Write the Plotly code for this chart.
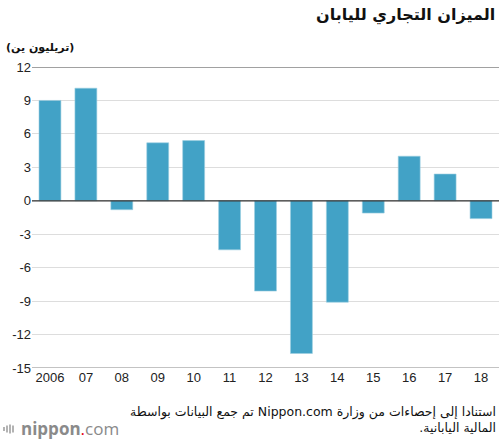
import plotly.graph_objects as go

# Japan trade balance, trillion yen
years = ["2006", "07", "08", "09", "10", "11", "12", "13", "14", "15", "16", "17", "18"]
balance = [9.0, 10.1, -0.8, 5.2, 5.4, -4.4, -8.1, -13.7, -9.1, -1.1, 4.0, 2.4, -1.6]
y_ticks = [12, 9, 6, 3, 0, -3, -6, -9, -12, -15]

W, H = 500, 440
L, R, T, B = 32, 1, 67, 72
pw, ph = W - L - R, H - T - B


def px_x(p):
    return (p - L) / pw


def px_y(p):
    return (H - B - p) / ph


fig = go.Figure()
fig.add_trace(go.Bar(
    x=years, y=balance,
    marker=dict(color="#42a2c6", line=dict(color="#9ccfe1", width=0.6)),
    hoverinfo="x+y",
))

fig.update_layout(
    width=W, height=H,
    margin=dict(l=L, r=R, t=T, b=B),
    paper_bgcolor="white", plot_bgcolor="white",
    showlegend=False,
    bargap=0.39,
    font=dict(family="Liberation Sans, Arial, sans-serif", size=13, color="#222"),
    xaxis=dict(type="category", showgrid=False, showline=False, ticks="",
               tickfont=dict(size=13)),
    yaxis=dict(range=[-15, 12], tickvals=y_ticks, ticktext=[str(v) for v in y_ticks],
               showgrid=True, gridcolor="#dddddd", gridwidth=1,
               zeroline=False, ticks="", tickfont=dict(size=13)),
)

# frame lines at top, bottom and zero
for yv, col in [(12, "#444444"), (-15, "#888888"), (0, "#333333")]:
    fig.add_shape(type="line", xref="paper", yref="y", x0=0, x1=1, y0=yv, y1=yv,
                  line=dict(color=col, width=1.2), layer="above")

# title
fig.add_annotation(text="<b>الميزان التجاري لليابان</b>", xref="paper", yref="paper",
                   x=px_x(497), y=px_y(15), xanchor="right", yanchor="middle",
                   showarrow=False, font=dict(family="DejaVu Sans", size=16, color="#111"))

# unit label
fig.add_annotation(text="<b>(تريليون ين)</b>", xref="paper", yref="paper",
                   x=px_x(4), y=px_y(47), xanchor="left", yanchor="middle",
                   showarrow=False, font=dict(family="DejaVu Sans", size=11, color="#111"))

# source
fig.add_annotation(text="تم جمع البيانات بواسطة Nippon.com استنادا إلى إحصاءات من وزارة<br>المالية اليابانية.\u200f",
                   xref="paper", yref="paper", x=px_x(498), y=px_y(419),
                   xanchor="right", yanchor="middle", align="right", showarrow=False,
                   font=dict(family="DejaVu Sans", size=12.5, color="#111"))

# logo
fig.add_annotation(text="<b>nippon</b><span style='color:#e60012'>.</span>com",
                   xref="paper", yref="paper", x=px_x(19), y=px_y(428),
                   xanchor="left", yanchor="middle", showarrow=False,
                   font=dict(family="Open Sans", size=17, color="#8a8a8a"))
for xp, hh in [(4, 4), (7, 7), (10, 9), (13, 7)]:
    fig.add_shape(type="line", xref="paper", yref="paper",
                  x0=px_x(xp), x1=px_x(xp), y0=px_y(429 + hh / 2), y1=px_y(429 - hh / 2),
                  line=dict(color="#9a9a9a", width=1.5))

fig.write_html("out.html", config={"displayModeBar": False},
               post_script="document.body.style.margin='0';")
